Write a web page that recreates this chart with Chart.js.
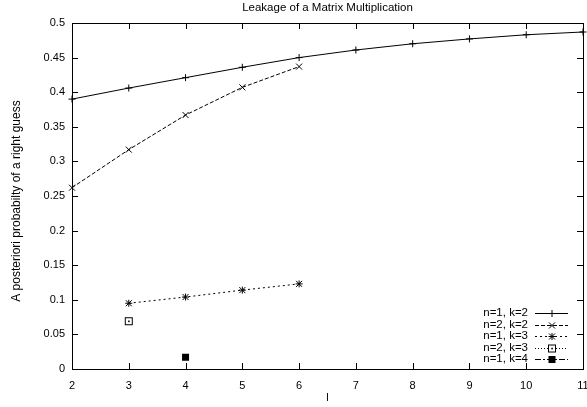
<!DOCTYPE html>
<html>
<head>
<meta charset="utf-8">
<script src="https://cdn.jsdelivr.net/npm/chart.js@4/dist/chart.umd.min.js"></script>
<style>
  html, body { margin: 0; padding: 0; background: #fff; }
  #wrap { width: 587px; height: 407px; }
</style>
</head>
<body>
<div id="wrap"><canvas id="chart"></canvas></div>
<script>
// data
const lValues = [2, 3, 4, 5, 6, 7, 8, 9, 10, 11];
const n1k2 = [0.390, 0.406, 0.421, 0.436, 0.450, 0.461, 0.470, 0.477, 0.483, 0.487];
const n2k2 = [0.262, 0.317, 0.367, 0.407, 0.437, null, null, null, null, null];
const n1k3 = [null, 0.095, 0.104, 0.114, 0.123, null, null, null, null, null];
const n2k3 = [null, 0.069, null, null, null, null, null, null, null, null];
const n1k4 = [null, null, 0.017, null, null, null, null, null, null, null];
const yTicks = [0, 0.05, 0.1, 0.15, 0.2, 0.25, 0.3, 0.35, 0.4, 0.45, 0.5];

const FONT = 'Liberation Sans, Arial, sans-serif';

function toPoints(values) {
    return lValues.map((l, i) => ({ x: l, y: values[i] })).filter(p => p.y !== null);
}

// series styles (gnuplot look)
const series = [
    { label: 'n=1, k=2', data: n1k2, dash: [], point: 'cross' },
    { label: 'n=2, k=2', data: n2k2, dash: [4, 2], point: 'crossRot' },
    { label: 'n=1, k=3', data: n1k3, dash: [2, 3], point: 'star' },
    { label: 'n=2, k=3', data: n2k3, dash: [1, 2], point: 'rectDot' },
    { label: 'n=1, k=4', data: n1k4, dash: [6, 2, 2, 2], point: 'rect' }
];

// draw a gnuplot style marker
function drawMarker(ctx, type, x, y) {
    ctx.save();
    ctx.setLineDash([]);
    ctx.strokeStyle = '#000';
    ctx.lineWidth = 1;
    const r = 3.5;
    ctx.beginPath();
    if (type === 'cross') {
        ctx.moveTo(x - r, y); ctx.lineTo(x + r, y);
        ctx.moveTo(x, y - r); ctx.lineTo(x, y + r);
        ctx.stroke();
    } else if (type === 'crossRot') {
        ctx.moveTo(x - 3, y - 3); ctx.lineTo(x + 3, y + 3);
        ctx.moveTo(x - 3, y + 3); ctx.lineTo(x + 3, y - 3);
        ctx.stroke();
    } else if (type === 'star') {
        ctx.moveTo(x - r, y); ctx.lineTo(x + r, y);
        ctx.moveTo(x, y - r); ctx.lineTo(x, y + r);
        ctx.moveTo(x - 3, y - 3); ctx.lineTo(x + 3, y + 3);
        ctx.moveTo(x - 3, y + 3); ctx.lineTo(x + 3, y - 3);
        ctx.stroke();
    } else if (type === 'rectDot') {
        ctx.fillStyle = '#fff';
        ctx.fillRect(x - 3.5, y - 3.5, 7, 7);
        ctx.strokeRect(x - 3.5, y - 3.5, 7, 7);
        ctx.fillStyle = '#000';
        ctx.fillRect(x - 0.7, y - 0.7, 1.6, 1.6);
    } else if (type === 'rect') {
        ctx.fillStyle = '#000';
        ctx.fillRect(x - 3.5, y - 3.5, 7, 7);
    }
    ctx.restore();
}

// markers, box, inward ticks, titles and legend
const gnuplotLook = {
    id: 'gnuplotLook',
    afterDatasetsDraw(chart) {
        const ctx = chart.ctx;
        chart.data.datasets.forEach((ds, i) => {
            const meta = chart.getDatasetMeta(i);
            meta.data.forEach(el => drawMarker(ctx, series[i].point, el.x, el.y));
        });
    },
    afterDraw(chart) {
        const ctx = chart.ctx;
        const a = chart.chartArea;
        const xs = chart.scales.x;
        const ys = chart.scales.y;
        ctx.save();
        ctx.strokeStyle = '#000';
        ctx.lineWidth = 1;
        ctx.setLineDash([]);
        ctx.strokeRect(Math.round(a.left) + 0.5, Math.round(a.top) + 0.5,
            Math.round(a.right - a.left), Math.round(a.bottom - a.top));
        ctx.beginPath();
        xs.ticks.forEach(t => {
            const px = Math.round(xs.getPixelForValue(t.value)) + 0.5;
            ctx.moveTo(px, a.bottom); ctx.lineTo(px, a.bottom - 6);
            ctx.moveTo(px, a.top); ctx.lineTo(px, a.top + 6);
        });
        ys.ticks.forEach(t => {
            const py = Math.round(ys.getPixelForValue(t.value)) + 0.5;
            ctx.moveTo(a.left, py); ctx.lineTo(a.left + 6, py);
            ctx.moveTo(a.right, py); ctx.lineTo(a.right - 6, py);
        });
        ctx.stroke();

        // title
        ctx.fillStyle = '#000';
        ctx.font = '11.5px ' + FONT;
        ctx.textAlign = 'center';
        ctx.textBaseline = 'middle';
        ctx.fillText('Leakage of a Matrix Multiplication', (a.left + a.right) / 2, 8);

        // y axis title
        ctx.save();
        ctx.translate(17, 201);
        ctx.rotate(-Math.PI / 2);
        ctx.font = '12px ' + FONT;
        ctx.fillText('A posteriori probabilty of a right guess', 0, 0);
        ctx.restore();

        // legend in the lower right corner
        ctx.font = '11.5px ' + FONT;
        ctx.textAlign = 'right';
        series.forEach((s, i) => {
            const y = 313 + i * 11.5;
            ctx.fillStyle = '#000';
            ctx.fillText(s.label, 528, y);
            ctx.beginPath();
            ctx.setLineDash(s.dash);
            ctx.moveTo(535, Math.round(y) + 0.5);
            ctx.lineTo(568, Math.round(y) + 0.5);
            ctx.stroke();
            drawMarker(ctx, s.point, 552, Math.round(y) + 0.5);
        });
        ctx.restore();
    }
};

new Chart(document.getElementById('chart'), {
    type: 'line',
    data: {
        datasets: series.map(s => ({
            label: s.label,
            data: toPoints(s.data),
            borderColor: '#000',
            borderWidth: 1,
            borderDash: s.dash,
            pointRadius: 0,
            pointHoverRadius: 0,
            fill: false,
            tension: 0
        }))
    },
    options: {
        responsive: true,
        maintainAspectRatio: false,
        animation: false,
        events: [],
        layout: { padding: { top: 23, right: 4, bottom: 0, left: 0 } },
        plugins: {
            legend: { display: false },
            title: { display: false },
            tooltip: { enabled: false }
        },
        scales: {
            x: {
                type: 'linear',
                min: 2,
                max: 11,
                afterBuildTicks: s => { s.ticks = lValues.map(v => ({ value: v })); },
                afterFit: s => { s.height = 38; s.paddingLeft = 0; s.paddingRight = 0; },
                grid: { display: false, drawTicks: false },
                border: { display: false },
                ticks: { color: '#000', font: { family: FONT, size: 11 }, padding: 10, maxRotation: 0 },
                title: { display: true, text: 'l', color: '#000', font: { family: FONT, size: 11 }, padding: { top: 0, bottom: 2 } }
            },
            y: {
                min: 0,
                max: 0.5,
                afterBuildTicks: s => { s.ticks = yTicks.map(v => ({ value: v })); },
                afterFit: s => { s.width = 72; s.paddingTop = 0; s.paddingBottom = 0; },
                grid: { display: false, drawTicks: false },
                border: { display: false },
                ticks: {
                    color: '#000',
                    font: { family: FONT, size: 11 },
                    padding: 7,
                    callback: v => String(Number(v.toFixed(2)))
                }
            }
        }
    },
    plugins: [gnuplotLook]
});
</script>
</body>
</html>
